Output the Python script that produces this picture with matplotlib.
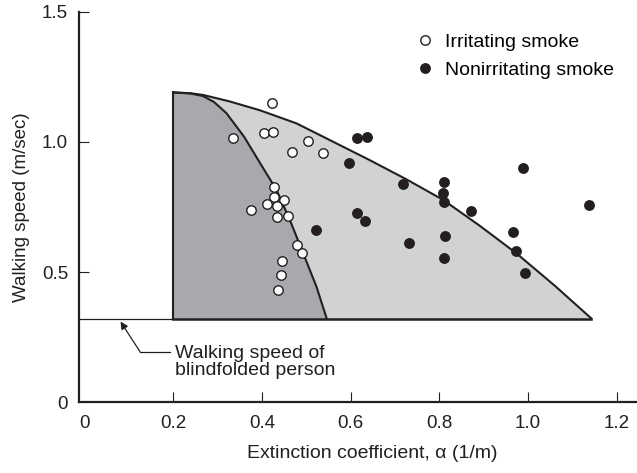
import matplotlib
matplotlib.use("Agg")
import matplotlib.pyplot as plt

plt.rcParams['font.family'] = ['Liberation Sans', 'DejaVu Sans']

DARK = '#231f20'

# Irritating smoke (open circles)
irr_x = [0.422, 0.335, 0.405, 0.425, 0.503, 0.467, 0.538, 0.427, 0.427, 0.450,
         0.412, 0.435, 0.375, 0.435, 0.459, 0.480, 0.490, 0.446, 0.442, 0.437]
irr_y = [1.151, 1.016, 1.035, 1.039, 1.003, 0.962, 0.959, 0.826, 0.790, 0.777,
         0.760, 0.754, 0.738, 0.713, 0.715, 0.604, 0.572, 0.543, 0.489, 0.431]

# Nonirritating smoke (filled circles)
non_x = [0.614, 0.636, 0.597, 0.719, 0.810, 0.809, 0.810, 0.988, 1.138, 0.871,
         0.615, 0.633, 0.967, 0.813, 0.732, 0.974, 0.810, 0.993, 0.521]
non_y = [1.014, 1.018, 0.918, 0.837, 0.845, 0.803, 0.768, 0.900, 0.758, 0.733,
         0.728, 0.696, 0.655, 0.640, 0.611, 0.582, 0.555, 0.498, 0.663]

# Outer (nonirritating) boundary curve
outer_x = [0.200, 0.238, 0.268, 0.328, 0.396, 0.478, 0.553, 0.643, 0.725,
           0.809, 0.892, 0.974, 1.061, 1.143]
outer_y = [1.190, 1.187, 1.180, 1.155, 1.121, 1.071, 1.007, 0.930, 0.857,
           0.777, 0.677, 0.572, 0.447, 0.322]

# Inner (irritating) boundary curve
inner_x = [0.200, 0.238, 0.267, 0.292, 0.320, 0.360, 0.396, 0.433, 0.463,
           0.493, 0.523, 0.546]
inner_y = [1.190, 1.186, 1.176, 1.153, 1.110, 1.019, 0.918, 0.815, 0.700,
           0.572, 0.444, 0.322]

blind_speed = 0.32
region_left = 0.2

x_ticks = [0, 0.2, 0.4, 0.6, 0.8, 1.0, 1.2]
x_tick_labels = ['0', '0.2', '0.4', '0.6', '0.8', '1.0', '1.2']
y_ticks = [0, 0.5, 1.0, 1.5]
y_tick_labels = ['0', '0.5', '1.0', '1.5']

fig = plt.figure(figsize=(6.37, 4.73), dpi=100)
ax = fig.add_axes([0.1245, 0.1495, 0.8755, 0.8258])
ax.set_xlim(-0.012, 1.246)
ax.set_ylim(0, 1.5)

# shaded regions
ox = outer_x + [outer_x[-1], region_left]
oy = outer_y + [blind_speed, blind_speed]
ax.fill(ox, oy, facecolor='#d1d2d4', edgecolor='none', zorder=1)
ix = inner_x + [inner_x[-1], region_left]
iy = inner_y + [blind_speed, blind_speed]
ax.fill(ix, iy, facecolor='#a7a9ac', edgecolor='none', zorder=2)

ax.plot(outer_x, outer_y, color=DARK, lw=1.5, zorder=3, solid_joinstyle='round')
ax.plot(inner_x, inner_y, color=DARK, lw=1.5, zorder=3, solid_joinstyle='round')
ax.plot([region_left, region_left], [blind_speed, outer_y[0]], color=DARK, lw=1.5, zorder=3)
ax.plot([region_left, outer_x[-1]], [blind_speed, blind_speed], color=DARK, lw=1.8, zorder=3)
ax.plot([ax.get_xlim()[0], region_left], [blind_speed, blind_speed], color=DARK, lw=0.9, zorder=3)

# data points
ax.plot(irr_x, irr_y, 'o', mfc='white', mec=DARK, mew=1.0, ms=6.8,
        label='Irritating smoke', zorder=5, clip_on=False)
ax.plot(non_x, non_y, 'o', mfc=DARK, mec=DARK, mew=1.0, ms=6.8,
        label='Nonirritating smoke', zorder=5, clip_on=False)

leg = ax.legend(loc='upper left', bbox_to_anchor=(415 / 637, 1 - 33 / 473),
                bbox_transform=fig.transFigure, frameon=False, fontsize=14,
                handlelength=1.0, handletextpad=0.55, borderpad=0,
                labelspacing=0.55, borderaxespad=0)

# annotation for blindfolded walking speed
elbow = (0.125, 0.194)
ax.plot([elbow[0], 0.193], [elbow[1], elbow[1]], color=DARK, lw=0.9)
ax.annotate('', xy=(0.081, 0.31), xytext=elbow,
            arrowprops=dict(arrowstyle='-|>', lw=0.9, color=DARK,
                            mutation_scale=11, shrinkA=0, shrinkB=0))
ax.text(0.204, 0.2213, 'Walking speed of\nblindfolded person', fontsize=14,
        ha='left', va='top', linespacing=1.0, color=DARK)

# axes styling
for s in ['top', 'right']:
    ax.spines[s].set_visible(False)
for s in ['left', 'bottom']:
    ax.spines[s].set_linewidth(1.6)
    ax.spines[s].set_color(DARK)
ax.set_xticks(x_ticks)
ax.set_xticklabels(x_tick_labels)
ax.set_yticks(y_ticks)
ax.set_yticklabels(y_tick_labels)
ax.tick_params(axis='both', direction='in', length=7.5, width=0.8,
               colors=DARK, labelsize=13.5)
ax.tick_params(axis='x', pad=9)
ax.tick_params(axis='y', pad=8)
ax.xaxis.get_major_ticks()[0].tick1line.set_visible(False)
ax.yaxis.get_major_ticks()[0].tick1line.set_visible(False)

ax.set_xlabel('Extinction coefficient, α (1/m)', fontsize=14, color=DARK)
ax.xaxis.set_label_coords(0.525, -0.109)
ax.set_ylabel('Walking speed (m/sec)', fontsize=13.5, color=DARK)
ax.yaxis.set_label_coords(-0.0884, 0.5)

fig.savefig('out.png', dpi=100)
